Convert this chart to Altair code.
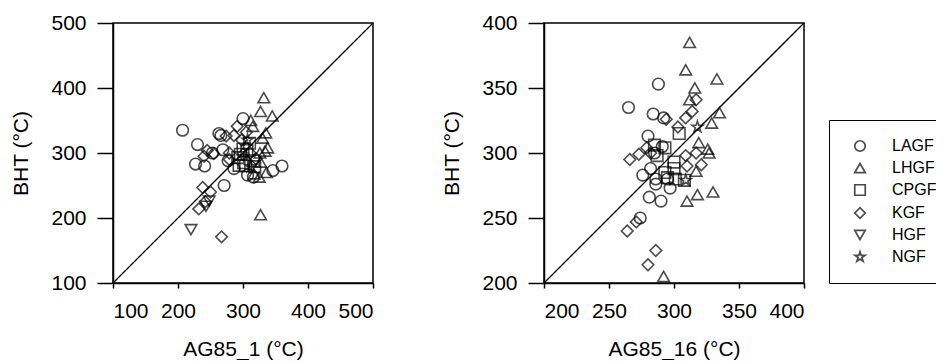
import altair as alt
import pandas as pd

# ---- data ----
lagf_bht   = [353, 335, 330, 327, 313, 283, 280, 288, 280, 273, 276, 266, 263, 250, 305, 300]
lagf_ag1   = [300, 207, 263, 266, 230, 227, 241, 277, 360, 346, 286, 307, 316, 271, 269, 253]
lagf_ag16  = [288, 265, 284, 292, 280, 276, 286, 282, 295, 297, 286, 281, 290, 274, 291, 285]

lhgf_bht   = [385, 364, 357, 350, 341, 331, 323, 308, 303, 300, 286, 268, 270, 263, 205]
lhgf_ag1   = [332, 327, 345, 312, 315, 335, 330, 338, 334, 326, 327, 317, 336, 325, 327]
lhgf_ag16  = [312, 309, 333, 316, 312, 335, 329, 319, 326, 327, 317, 318, 330, 310, 292]

cpgf_bht   = [315, 306, 304, 298, 293, 288, 285, 281, 280, 279]
cpgf_ag1   = [310, 300, 306, 296, 292, 316, 301, 294, 304, 318]
cpgf_ag16  = [304, 285, 293, 287, 300, 300, 293, 295, 301, 308]

kgf_bht    = [341, 332, 327, 326, 320, 295, 299, 304, 300, 298, 300, 290, 291, 240, 247, 225, 214, 171]
kgf_ag1    = [291, 305, 286, 274, 298, 240, 255, 245, 279, 300, 311, 279, 320, 250, 238, 242, 232, 267]
kgf_ag16   = [317, 314, 309, 294, 303, 266, 273, 279, 282, 309, 317, 310, 321, 264, 271, 286, 280, 287]

hgf_bht    = [182, 226, 218]
hgf_ag1    = [220, 248, 243]
hgf_ag16   = [None, None, None]

ngf_bht    = [320, 279]
ngf_ag1    = [307, 312]
ngf_ag16   = [318, 309]

groups = ["LAGF", "LHGF", "CPGF", "KGF", "HGF", "NGF"]
STAR = ("M0,-1L0.224,-0.309L0.951,-0.309L0.363,0.118L0.588,0.809L0,0.382"
        "L-0.588,0.809L-0.363,0.118L-0.951,-0.309L-0.224,-0.309Z")
shapes = ["circle", "triangle-up", "square", "diamond", "triangle-down", STAR]

rows = []
for g, b, a1, a16 in [
    ("LAGF", lagf_bht, lagf_ag1, lagf_ag16),
    ("LHGF", lhgf_bht, lhgf_ag1, lhgf_ag16),
    ("CPGF", cpgf_bht, cpgf_ag1, cpgf_ag16),
    ("KGF", kgf_bht, kgf_ag1, kgf_ag16),
    ("HGF", hgf_bht, hgf_ag1, hgf_ag16),
    ("NGF", ngf_bht, ngf_ag1, ngf_ag16),
]:
    for i in range(len(b)):
        rows.append({"type": g, "BHT": b[i], "AG85_1": a1[i], "AG85_16": a16[i]})
df = pd.DataFrame(rows)
df["AG85_16"] = pd.to_numeric(df["AG85_16"])

FONT = "Liberation Sans"


def panel(xfield, lo, hi, step, xtitle):
    ticks = list(range(lo, hi + 1, step))
    sc = alt.Scale(domain=[lo, hi], nice=False, zero=False)
    xax = alt.Axis(values=ticks, title=xtitle)
    yax = alt.Axis(values=ticks, title="BHT (°C)")
    legend = alt.Legend(
        title=None, orient="none", legendX=716, legendY=97,
        strokeColor="black", padding=18, symbolOffset=5, labelOffset=24,
        rowPadding=5, symbolSize=110, symbolStrokeWidth=1.7,
        symbolStrokeColor="black", symbolFillColor="transparent",
        labelFont=FONT, labelFontSize=16, labelColor="black",
    )
    shape = alt.Shape("type:N", scale=alt.Scale(domain=groups, range=shapes), legend=legend)
    pts = alt.Chart(df).mark_point(
        filled=False, size=135, strokeWidth=1.6, color="black", clip=True
    ).encode(
        x=alt.X(f"{xfield}:Q", scale=sc, axis=xax),
        y=alt.Y("BHT:Q", scale=sc, axis=yax),
        shape=shape,
    )
    ends = pd.DataFrame({"lo": [lo], "hi": [hi]})
    line = alt.Chart(ends).mark_rule(color="black", strokeWidth=1.3).encode(
        x=alt.X("lo:Q", scale=sc, axis=xax),
        y=alt.Y("lo:Q", scale=sc, axis=yax),
        x2="hi:Q",
        y2="hi:Q",
    )
    return alt.layer(line, pts).properties(width=260, height=260)


left = panel("AG85_1", 100, 500, 100, "AG85_1 (°C)")
right = panel("AG85_16", 200, 400, 50, "AG85_16 (°C)")

chart = (
    alt.hconcat(left, right, spacing=66)
    .configure(padding={"left": 2, "top": 3, "right": -20, "bottom": 0}, font=FONT)
    .configure_view(stroke="black", strokeWidth=1.5)
    .configure_axis(
        grid=False, domainColor="black", domainWidth=1.5,
        tickColor="black", tickWidth=1.5,
        labelFont=FONT, labelFontSize=21, labelColor="black",
        titleFont=FONT, titleFontSize=21, titleFontWeight="normal", titleColor="black",
    )
    .configure_axisX(tickSize=5, labelPadding=12, titlePadding=17)
    .configure_axisY(tickSize=16, labelPadding=11, titlePadding=19)
)

chart.save("out.html", embed_options={"renderer": "svg", "actions": False})
